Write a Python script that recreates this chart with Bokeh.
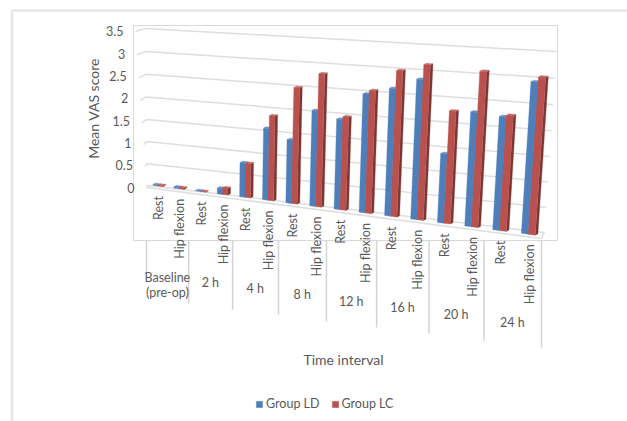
import numpy as np
from bokeh.embed import file_html
from bokeh.resources import INLINE
from bokeh.plotting import figure
from bokeh.models import Range1d, Legend, LegendItem
from bokeh.core.properties import value

categories = ["Rest", "Hip flexion"] * 8
groups = ["Baseline\n(pre-op)", "2 h", "4 h", "8 h", "12 h", "16 h", "20 h", "24 h"]
group_ld = [0.02, 0.03, 0.01, 0.13, 0.75, 1.55, 1.36, 2.03, 1.90, 2.47, 2.63, 2.86, 1.42, 2.31, 2.27, 3.00]
group_lc = [0.02, 0.03, 0.01, 0.15, 0.75, 1.83, 2.47, 2.80, 1.96, 2.55, 3.00, 3.16, 2.29, 3.12, 2.31, 3.10]
y_ticks = [0, 0.5, 1, 1.5, 2, 2.5, 3, 3.5]
y_tick_labels = ["0", "0.5", "1", "1.5", "2", "2.5", "3", "3.5"]

FONT = "Lato"
TXT = "#595959"
GRID = "#D9D9D9"
BLUE, BLUE_TOP = "#4F7FBA", "#6A93C6"
RED, RED_TOP, RED_SIDE = "#B9524F", "#C4696A", "#7B3533"
DEPTH = np.array([2.6, -1.4])
UMAX, VMAX = 16.0, 3.5


def warp(u):
    return u - 0.003 * u * (UMAX - u)


def homography(quad):
    """Perspective map of (u, v) in [0,UMAX]x[0,VMAX] on a screen quad (u0v0, u1v0, u0v1, u1v1)."""
    src = [(0, 0), (UMAX, 0), (0, VMAX), (UMAX, VMAX)]
    A, b = [], []
    for (u, v), (x, y) in zip(src, quad):
        A.append([u, v, 1, 0, 0, 0, -u * x, -v * x]); b.append(x)
        A.append([0, 0, 0, u, v, 1, -u * y, -v * y]); b.append(y)
    h = np.append(np.linalg.solve(np.array(A, float), np.array(b, float)), 1).reshape(3, 3)

    def f(u, v):
        w = h @ np.array([warp(u), v, 1.0])
        return np.array([w[0] / w[2], w[1] / w[2]])
    return f


bars = homography([(146, 184), (541, 235.5), (145, 26), (553, 56.5)])
wall = homography([(147, 185), (544, 232), (145, 28), (556, 51)])
floor_front = homography([(146, 187), (541, 238), (135, 31), (553, 58)])

p = figure(width=627, height=421, output_backend="svg", toolbar_location=None,
           x_range=Range1d(0, 627), y_range=Range1d(421, 0), min_border=0)
p.xaxis.visible = False
p.yaxis.visible = False
p.grid.visible = False
p.outline_line_color = None
p.background_fill_color = "white"
p.border_fill_color = "white"

# page rules and chart frame
p.line([11.5, 11.5], [421, 10], line_color="#E6E6E6", line_width=2.5)
p.line([11.5, 627], [10, 10], line_color="#E6E6E6", line_width=2.5)
p.line([133, 557, 557, 133, 133], [25, 25, 240, 240, 25], line_color=GRID, line_width=1)

# gridlines on the back wall, stubs on the side wall
for t in y_ticks:
    a, b, c = floor_front(0, t), wall(0, t), wall(UMAX, t)
    p.line([a[0], b[0], c[0]], [a[1], b[1], c[1]], line_color="#DEDEDE", line_width=1.5)
a, b, c = floor_front(0, 0), floor_front(UMAX, 0), wall(UMAX, 0)
p.line([a[0], b[0], c[0]], [a[1], b[1], c[1]], line_color="#DEDEDE", line_width=1.5)


def bar_polys(u0, u1, val):
    bl, br, tl, tr = bars(u0, 0), bars(u1, 0), bars(u0, val), bars(u1, val)
    front = [bl, br, tr, tl]
    side = [br, br + DEPTH, tr + DEPTH, tr]
    top = [tl, tr, tr + DEPTH, tl + DEPTH]
    return front, side, top


def add(polys, color):
    return p.patches([[q[0] for q in poly] for poly in polys],
                     [[q[1] for q in poly] for poly in polys],
                     fill_color=color, line_color=color, line_width=0.3)


W = 0.24
r_blue = r_red = None
for i, (ld, lc) in enumerate(zip(group_ld, group_lc)):
    c = i + 0.55
    f, s, t = bar_polys(c - W, c, ld)
    add([s], "#3B5F8C"); add([t], BLUE_TOP); r_blue = add([f], BLUE)
    f, s, t = bar_polys(c, c + W, lc)
    add([s], RED_SIDE); add([t], RED_TOP); r_red = add([f], RED)

# group separators below the chart
drops = [273, 303, 309, 314, 321, 327, 333, 341, 347]
for k, d in enumerate(drops):
    x = bars(2.0 * k, 0)[0]
    p.line([x, x], [240, d], line_color="#D4D4D4", line_width=1.5)

# rotated category labels
for i, cat in enumerate(categories):
    q = bars(i + 0.58, 0)
    p.text([q[0]], [q[1] + 10], text=[cat], angle=np.pi / 2, text_align="right",
           text_baseline="middle", text_font=value(FONT), text_font_size="12.5px", text_color=TXT)

# group labels
for k, g in enumerate(groups):
    q = bars(2.0 * k + 1, 0)
    for j, line in enumerate(g.split("\n")):
        p.text([q[0]], [q[1] + 90 + j * 15], text=[line], text_align="center", text_baseline="middle",
               text_font=value(FONT), text_font_size="12.5px", text_color=TXT)

# value axis labels, following the slanted side wall
for t, lab in zip(y_ticks, y_tick_labels):
    q = floor_front(0, t)
    p.text([q[0] - 12], [187 - t * 44.6], text=[lab], text_align="right", text_baseline="middle",
           text_font=value(FONT), text_font_size="12.5px", text_color=TXT)

p.text([93], [108], text=["Mean VAS score"], angle=np.pi / 2, text_align="center", text_baseline="middle",
       text_font=value(FONT), text_font_size="14px", text_color=TXT)
p.text([343], [359], text=["Time interval"], text_align="center", text_baseline="middle",
       text_font=value(FONT), text_font_size="14px", text_color=TXT)

legend = Legend(items=[LegendItem(label="Group LD", renderers=[r_blue]),
                       LegendItem(label="Group LC", renderers=[r_red])],
                orientation="horizontal", location=(255, 10), border_line_color=None,
                background_fill_alpha=0, glyph_width=8, glyph_height=8, label_standoff=3,
                spacing=11, padding=2, margin=0, label_text_font=FONT,
                label_text_font_size="12.5px", label_text_color=TXT)
p.add_layout(legend)

open("out.html", "w").write(file_html(p, INLINE))
